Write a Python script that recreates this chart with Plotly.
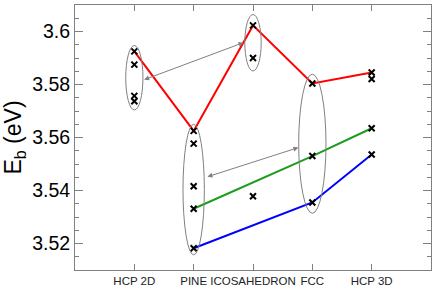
import plotly.graph_objects as go

# --- data ---
categories = ["HCP 2D", "PINE", "ICOSAHEDRON", "FCC", "HCP 3D"]
cat_pos = [1, 2, 3, 4, 5]

# all computed energies (x markers)
pts_x = [1, 1, 1, 1, 2, 2, 2, 2, 2, 3, 3, 3, 4, 4, 4, 5, 5, 5, 5]
pts_y = [3.5925, 3.5875, 3.5757, 3.5737,
         3.5625, 3.5577, 3.5416, 3.5331, 3.5182,
         3.6023, 3.5900, 3.5378,
         3.5804, 3.5530, 3.5355,
         3.5845, 3.5821, 3.5635, 3.5536]

red_x = [1, 2, 3, 4, 5]
red_y = [3.5925, 3.5625, 3.6023, 3.5804, 3.5845]
green_x = [2, 4, 5]
green_y = [3.5331, 3.5530, 3.5635]
blue_x = [2, 4, 5]
blue_y = [3.5182, 3.5355, 3.5536]

# ellipses: centre x, half width, y bottom, y top
ell_cx = [1, 2, 3, 4]
ell_hw = [0.145, 0.18, 0.138, 0.23]
ell_y0 = [3.5704, 3.5157, 3.5851, 3.5314]
ell_y1 = [3.5947, 3.5650, 3.6064, 3.5839]

# double arrows: (x0, y0) -> (x1, y1)
arr_x0 = [1.14, 2.207]
arr_y0 = [3.5816, 3.5450]
arr_x1 = [2.84, 3.766]
arr_y1 = [3.5958, 3.5562]

y_ticks = [3.52, 3.54, 3.56, 3.58, 3.60]
y_ticktext = ["3.52", "3.54", "3.56", "3.58", "3.6"]

FONT = "Liberation Sans, Arial, sans-serif"
GRAY = "#808080"

fig = go.Figure()
fig.add_trace(go.Scatter(x=red_x, y=red_y, mode="lines",
                         line=dict(color="#ff0000", width=2), hoverinfo="skip"))
fig.add_trace(go.Scatter(x=green_x, y=green_y, mode="lines",
                         line=dict(color="#1c9c1c", width=2), hoverinfo="skip"))
fig.add_trace(go.Scatter(x=blue_x, y=blue_y, mode="lines",
                         line=dict(color="#0000ff", width=2), hoverinfo="skip"))
fig.add_trace(go.Scatter(x=pts_x, y=pts_y, mode="markers",
                         marker=dict(symbol="x-thin", size=6,
                                     line=dict(color="black", width=2))))

for cx, hw, y0, y1 in zip(ell_cx, ell_hw, ell_y0, ell_y1):
    fig.add_shape(type="circle", xref="x", yref="y",
                  x0=cx - hw, x1=cx + hw, y0=y0, y1=y1,
                  line=dict(color=GRAY, width=1), layer="above")

for x0, y0, x1, y1 in zip(arr_x0, arr_y0, arr_x1, arr_y1):
    fig.add_annotation(x=x1, y=y1, ax=x0, ay=y0, xref="x", yref="y",
                       axref="x", ayref="y", text="", showarrow=True,
                       arrowhead=2, startarrowhead=2, arrowside="end+start",
                       arrowsize=1, startarrowsize=1,
                       arrowwidth=1, arrowcolor=GRAY)

fig.update_layout(
    width=436, height=286,
    margin=dict(l=75, r=5, t=5, b=16),
    plot_bgcolor="white", paper_bgcolor="white",
    showlegend=False,
    font=dict(family=FONT, color="black"),
    xaxis=dict(range=[0, 6], tickvals=cat_pos, ticktext=categories,
               automargin=False,
               ticks="inside", ticklen=6, tickcolor=GRAY, tickwidth=1,
               showline=True, linecolor=GRAY, linewidth=1, mirror="ticks",
               showgrid=False, zeroline=False,
               tickfont=dict(size=11.5, family=FONT, color="#222222")),
    yaxis=dict(range=[3.51, 3.61], tickvals=y_ticks, ticktext=y_ticktext,
               automargin=False,
               ticks="inside", ticklen=8, tickcolor=GRAY, tickwidth=1,
               showline=True, linecolor=GRAY, linewidth=1, mirror="ticks",
               showgrid=False, zeroline=False,
               tickfont=dict(size=19.5, family=FONT),
               minor=dict(dtick=0.005, ticks="inside", ticklen=4,
                          tickcolor=GRAY, showgrid=False),
               title=dict(text="E<sub>b</sub> (eV)",
                          font=dict(size=23, family=FONT))),
)

fig.write_html("out.html", config={"displayModeBar": False},
               post_script="document.body.style.margin='0';"
                           "document.body.style.overflow='hidden';")
